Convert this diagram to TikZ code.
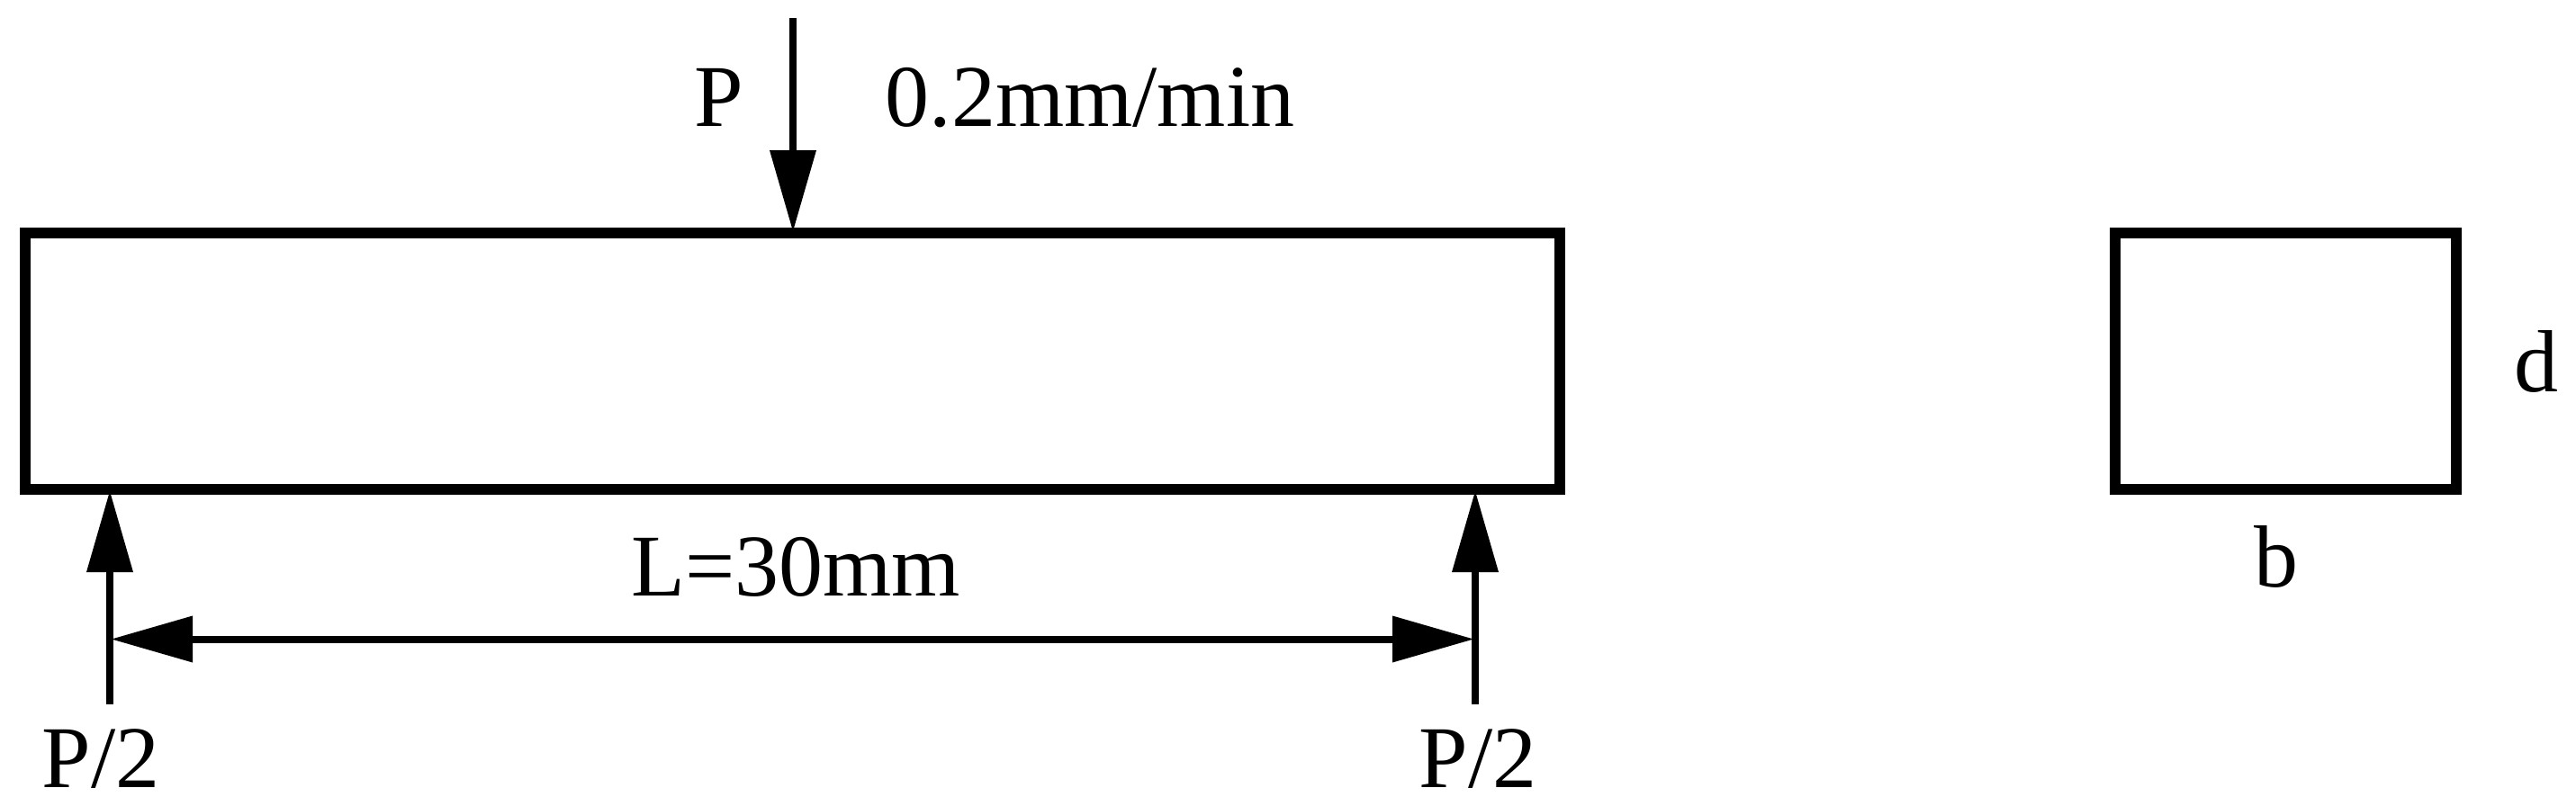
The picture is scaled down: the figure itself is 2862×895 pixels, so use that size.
\documentclass[tikz,border=0pt]{standalone}
\usepackage{fontspec}
\newfontfamily\labfont{Liberation Serif}
\usetikzlibrary{arrows.meta}
\tikzset{
  x=1pt,y=-1pt,
  beam/.style={draw=black,line width=12pt,miter limit=10},
  lab/.style={inner sep=0pt,outer sep=0pt,anchor=base,font=\labfont\fontsize{98}{98}\selectfont},
  force/.style={line width=8pt,-{Triangle[length=90pt,width=52pt,line width=0pt]}},
  dim/.style={line width=8pt,{Triangle[length=90pt,width=52pt,line width=0pt]}-{Triangle[length=90pt,width=52pt,line width=0pt]}}
}
\begin{document}
\begin{tikzpicture}
\useasboundingbox (0,0) rectangle (2862,895);
\coordinate (tl) at (28,259);
\coordinate (br) at (1733,544);
\coordinate (stl) at (2350,259);
\coordinate (sbr) at (2729,544);
\draw[beam] (tl) rectangle (br);
\draw[beam] (stl) rectangle (sbr);
\coordinate (ptop) at (881,20);
\coordinate (ptip) at (881,257);
\coordinate (lbot) at (122,783);
\coordinate (ltip) at (122,546);
\coordinate (rbot) at (1639,783);
\coordinate (rtip) at (1639,546);
\coordinate (dl) at (124,710.5);
\coordinate (dr) at (1637,710.5);
\draw[force] (ptop) -- (ptip);
\draw[force] (lbot) -- (ltip);
\draw[force] (rbot) -- (rtip);
\draw[dim] (dl) -- (dr);
\node[lab] (p) at (799,140) {P};
\node[lab] (rate) at (1211,140) {0.2mm/min};
\node[lab] (len) at (884,662) {L=30mm};
\node[lab] (pl) at (112,875) {P/2};
\node[lab] (pr) at (1642,875) {P/2};
\node[lab] (b) at (2529,652) {b};
\node[lab] (d) at (2818,435) {d};
\end{tikzpicture}
\end{document}
